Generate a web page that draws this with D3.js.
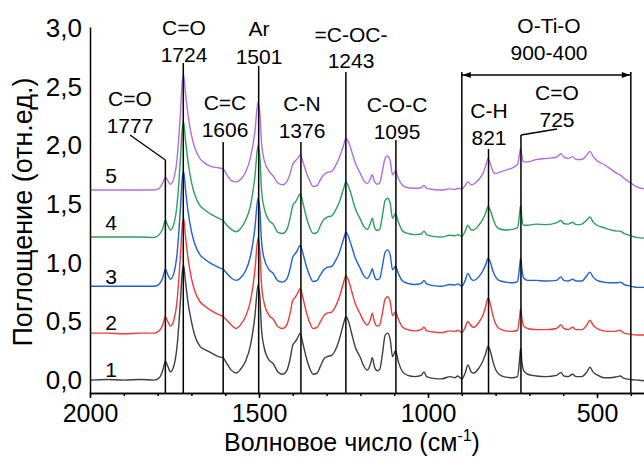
<!DOCTYPE html>
<html>
<head>
<meta charset="utf-8">
<script src="https://cdn.jsdelivr.net/npm/d3@7"></script>
<style>
  html, body { margin: 0; padding: 0; background: #ffffff; }
  svg { display: block; font-family: "Liberation Sans", Arial, sans-serif; }
</style>
</head>
<body>
<svg id="chart" width="644" height="459"></svg>
<script>
// ---------------- DATA ----------------
const wavenumber = [2000,1950,1900,1850,1810,1795,1785,1777,1770,1762,1752,1742,1733,1727,1723,1718,1710,1700,1690,1675,1660,1640,1620,1606,1595,1582,1567,1555,1540,1525,1512,1503,1497,1493,1485,1470,1458,1444,1430,1418,1408,1400,1392,1386,1378,1370,1360,1350,1340,1328,1318,1308,1298,1285,1275,1262,1250,1243,1235,1227,1215,1200,1190,1180,1170,1165,1158,1150,1143,1135,1127,1120,1112,1105,1096,1088,1075,1060,1040,1020,1012,1004,985,960,935,920,912,900,890,882,872,865,850,838,830,822,815,808,800,790,770,750,735,729,726,722,717,705,680,650,620,607,598,585,572,562,545,530,521,512,500,480,460,440,432,420,400,380,361];

const series1 = [0.00,0.005,0.00,0.005,0.00,0.02,0.08,0.16,0.12,0.07,0.12,0.30,0.65,0.92,0.98,0.85,0.66,0.50,0.38,0.29,0.26,0.23,0.20,0.19,0.14,0.085,0.06,0.09,0.16,0.30,0.55,0.81,0.70,0.45,0.28,0.17,0.14,0.07,0.05,0.08,0.18,0.30,0.33,0.36,0.40,0.31,0.19,0.10,0.05,0.06,0.12,0.18,0.20,0.21,0.25,0.35,0.48,0.54,0.50,0.41,0.28,0.19,0.12,0.085,0.14,0.19,0.11,0.08,0.09,0.22,0.38,0.40,0.35,0.20,0.25,0.16,0.07,0.04,0.03,0.04,0.07,0.03,0.015,0.01,0.03,0.02,0.035,0.01,0.06,0.13,0.07,0.06,0.10,0.16,0.22,0.29,0.24,0.16,0.09,0.05,0.025,0.02,0.03,0.18,0.27,0.15,0.08,0.05,0.035,0.03,0.04,0.065,0.035,0.03,0.05,0.03,0.03,0.07,0.11,0.07,0.045,0.02,0.02,0.03,0.035,0.015,0.005,0.00,-0.005];

const series2 = [0.00,0.00,-0.005,0.00,0.00,0.02,0.07,0.14,0.10,0.06,0.11,0.29,0.64,0.92,0.98,0.84,0.64,0.47,0.36,0.27,0.23,0.19,0.16,0.14,0.11,0.07,0.04,0.07,0.14,0.28,0.54,0.81,0.68,0.43,0.26,0.15,0.12,0.055,0.04,0.07,0.17,0.28,0.31,0.34,0.38,0.30,0.18,0.09,0.04,0.05,0.10,0.15,0.17,0.18,0.22,0.31,0.43,0.49,0.45,0.37,0.25,0.16,0.10,0.07,0.12,0.17,0.09,0.06,0.07,0.17,0.29,0.31,0.27,0.15,0.18,0.12,0.05,0.03,0.02,0.03,0.05,0.02,0.01,0.005,0.02,0.015,0.025,0.005,0.05,0.10,0.06,0.05,0.09,0.15,0.22,0.30,0.24,0.15,0.08,0.04,0.02,0.015,0.025,0.14,0.21,0.12,0.06,0.04,0.03,0.03,0.04,0.07,0.04,0.03,0.05,0.03,0.03,0.07,0.11,0.07,0.04,0.02,0.015,0.02,0.025,0.00,-0.01,-0.015,-0.016];

const series3 = [0.00,0.00,0.00,0.00,0.00,0.02,0.07,0.144,0.10,0.06,0.11,0.29,0.64,0.92,0.98,0.84,0.64,0.47,0.36,0.27,0.23,0.19,0.16,0.144,0.11,0.07,0.05,0.07,0.13,0.26,0.50,0.75,0.63,0.40,0.24,0.14,0.11,0.045,0.035,0.06,0.15,0.25,0.28,0.31,0.35,0.28,0.17,0.09,0.04,0.05,0.10,0.14,0.16,0.17,0.21,0.29,0.40,0.46,0.42,0.35,0.24,0.15,0.09,0.065,0.11,0.15,0.08,0.055,0.065,0.17,0.29,0.31,0.27,0.14,0.17,0.11,0.045,0.025,0.015,0.025,0.05,0.02,0.005,0.00,0.015,0.01,0.02,0.00,0.05,0.11,0.06,0.05,0.08,0.13,0.18,0.24,0.20,0.13,0.08,0.05,0.035,0.03,0.04,0.17,0.24,0.14,0.07,0.05,0.05,0.045,0.05,0.08,0.05,0.045,0.06,0.045,0.045,0.09,0.12,0.08,0.05,0.035,0.03,0.03,0.035,0.015,0.00,-0.01,-0.01];

const series4 = [0.00,0.00,0.00,0.00,-0.005,0.02,0.07,0.14,0.10,0.06,0.11,0.29,0.64,0.92,0.98,0.84,0.64,0.47,0.36,0.27,0.23,0.19,0.16,0.138,0.10,0.065,0.044,0.07,0.14,0.27,0.52,0.78,0.66,0.42,0.25,0.14,0.11,0.04,0.03,0.06,0.16,0.27,0.30,0.33,0.37,0.29,0.17,0.08,0.03,0.04,0.10,0.15,0.17,0.18,0.22,0.30,0.41,0.47,0.43,0.36,0.24,0.15,0.09,0.065,0.12,0.16,0.08,0.055,0.065,0.18,0.31,0.33,0.29,0.16,0.20,0.13,0.05,0.03,0.02,0.025,0.05,0.02,0.005,0.00,0.015,0.01,0.02,0.005,0.05,0.10,0.06,0.06,0.10,0.15,0.20,0.26,0.22,0.16,0.10,0.07,0.06,0.065,0.08,0.20,0.27,0.15,0.10,0.10,0.11,0.105,0.12,0.14,0.115,0.11,0.125,0.105,0.11,0.145,0.17,0.13,0.10,0.08,0.06,0.05,0.05,0.03,0.01,-0.005,-0.01];

const series5 = [0.00,0.00,0.00,0.00,0.00,0.015,0.06,0.11,0.08,0.05,0.10,0.28,0.63,0.92,0.98,0.84,0.64,0.47,0.36,0.27,0.23,0.20,0.19,0.18,0.13,0.08,0.07,0.09,0.15,0.28,0.50,0.75,0.64,0.42,0.26,0.16,0.12,0.06,0.045,0.07,0.14,0.22,0.25,0.27,0.30,0.24,0.15,0.08,0.03,0.04,0.09,0.13,0.15,0.16,0.20,0.28,0.38,0.44,0.41,0.34,0.23,0.14,0.08,0.055,0.10,0.13,0.07,0.05,0.06,0.16,0.27,0.29,0.25,0.13,0.16,0.10,0.04,0.02,0.015,0.02,0.04,0.015,0.005,0.00,0.01,0.005,0.015,0.01,0.04,0.07,0.045,0.05,0.09,0.14,0.20,0.27,0.22,0.16,0.14,0.15,0.17,0.19,0.22,0.31,0.355,0.28,0.24,0.24,0.26,0.27,0.28,0.31,0.28,0.27,0.285,0.26,0.26,0.30,0.33,0.29,0.25,0.22,0.18,0.14,0.13,0.10,0.06,0.025,0.01];

const seriesNames = ["1", "2", "3", "4", "5"];
const seriesOffsets = [0, 0.40, 0.80, 1.22, 1.62];
const seriesValues = [series1, series2, series3, series4, series5];
const seriesColors = ["#3f3f3f", "#f23b3b", "#1f5fdb", "#2e9e5b", "#b26de4"];

const xMajorTicks = [2000, 1500, 1000, 500];
const xMinorTicks = [2000,1900,1800,1700,1600,1500,1400,1300,1200,1100,1000,900,800,700,600,500,400];
const yTicks = [0, 0.5, 1.0, 1.5, 2.0, 2.5, 3.0];

const peakWavenumbers = [1777, 1724, 1606, 1501, 1376, 1243, 1095, 821, 725];
const peakGroups = ["C=O", "C=O", "C=C", "Ar", "C-N", "=C-OC-", "C-O-C", "C-H", "C=O"];
const bandRange = [900, 400];
const bandLabel = ["O-Ti-O", "900-400"];

// ---------------- LAYOUT ----------------
const FONT = "'Liberation Sans', Arial, sans-serif";
const layout = [ // pixel layout for each annotation, index-aligned with peakWavenumbers
  { top: 160, lx: 130, b1: 106, b2: 133, leader: [130, 135] },
  { top: 63,  lx: 184, b1: 35,  b2: 62 },
  { top: 142, lx: 225, b1: 110, b2: 137 },
  { top: 66,  lx: 259, b1: 36,  b2: 64 },
  { top: 142, lx: 302, b1: 111, b2: 138 },
  { top: 72,  lx: 351, b1: 42,  b2: 68 },
  { top: 140, lx: 397, b1: 112, b2: 139 },
  { top: 149, lx: 489, b1: 118, b2: 145 },
  { top: 135, lx: 557, b1: 100, b2: 127, leader: [557, 129] }
];

const svg = d3.select("#chart");
const x = d3.scaleLinear().domain([2000, 361]).range([90, 644]);
const y = d3.scaleLinear().domain([-0.11, 3.01]).range([393, 27]);

// curves
const line = d3.line().curve(d3.curveMonotoneX);
seriesValues.forEach((vals, i) => {
  const pts = wavenumber.map((w, k) => [x(w), y(vals[k] + seriesOffsets[i])]);
  svg.append("path")
    .attr("d", line(pts))
    .attr("fill", "none")
    .attr("stroke", seriesColors[i])
    .attr("stroke-width", 1.4)
    .attr("stroke-linejoin", "round");
});

// series labels
const labelBaselines = [377, 330, 284, 230, 183];
seriesNames.forEach((n, i) => {
  svg.append("text").attr("x", 111).attr("y", labelBaselines[i])
    .attr("text-anchor", "middle").attr("font-size", 21).attr("fill", "#000")
    .text(n);
});

// x axis
const gx = svg.append("g").attr("transform", "translate(0,393)");
gx.call(d3.axisBottom(x).tickValues(xMinorTicks).tickSize(3).tickSizeOuter(0).tickFormat(""));
const gx2 = svg.append("g").attr("transform", "translate(0,393)");
gx2.call(d3.axisBottom(x).tickValues(xMajorTicks).tickSize(5).tickSizeOuter(0).tickPadding(6).tickFormat(d3.format("d")));
[gx, gx2].forEach(g => {
  g.selectAll("path, line").attr("stroke", "#000").attr("stroke-width", 1.5);
  g.selectAll("text").attr("font-size", 25).attr("font-family", FONT).attr("fill", "#000");
});

// y axis
const gy = svg.append("g").attr("transform", "translate(90,0)");
gy.call(d3.axisLeft(y).tickValues(yTicks).tickSize(0).tickSizeOuter(0).tickPadding(8)
  .tickFormat(d => d.toFixed(1).replace(".", ",")));
gy.selectAll("path").attr("stroke", "#000").attr("stroke-width", 1.5);
gy.selectAll("text").attr("font-size", 26).attr("font-family", FONT).attr("fill", "#000");

// annotation lines and labels
const ann = svg.append("g");
peakWavenumbers.forEach((w, i) => {
  const L = layout[i];
  const px = x(w);
  ann.append("line").attr("x1", px).attr("x2", px).attr("y1", 393).attr("y2", L.top)
    .attr("stroke", "#000").attr("stroke-width", 1.5);
  if (L.leader) {
    ann.append("line").attr("x1", px).attr("y1", L.top).attr("x2", L.leader[0]).attr("y2", L.leader[1])
      .attr("stroke", "#000").attr("stroke-width", 1.3);
  }
  ann.append("text").attr("x", L.lx).attr("y", L.b1).attr("text-anchor", "middle")
    .attr("font-size", 21).attr("fill", "#000").text(peakGroups[i]);
  ann.append("text").attr("x", L.lx).attr("y", L.b2).attr("text-anchor", "middle")
    .attr("font-size", 21).attr("fill", "#000").text(String(w));
});

// O-Ti-O band bracket
const bx0 = x(bandRange[0]), bx1 = x(bandRange[1]);
const bracketY = 75;
[bx0, bx1].forEach(px => {
  ann.append("line").attr("x1", px).attr("x2", px).attr("y1", 393).attr("y2", 72)
    .attr("stroke", "#000").attr("stroke-width", 1.5);
});
ann.append("line").attr("x1", bx0).attr("x2", bx1).attr("y1", bracketY).attr("y2", bracketY)
  .attr("stroke", "#000").attr("stroke-width", 1.3);
ann.append("path")
  .attr("d", `M${bx0 + 1},${bracketY} L${bx0 + 9},${bracketY - 3} L${bx0 + 9},${bracketY + 3} Z`)
  .attr("fill", "#000");
ann.append("path")
  .attr("d", `M${bx1 - 1},${bracketY} L${bx1 - 9},${bracketY - 3} L${bx1 - 9},${bracketY + 3} Z`)
  .attr("fill", "#000");
ann.append("text").attr("x", 549).attr("y", 33).attr("text-anchor", "middle")
  .attr("font-size", 21).attr("fill", "#000").text(bandLabel[0]);
ann.append("text").attr("x", 549).attr("y", 60).attr("text-anchor", "middle")
  .attr("font-size", 21).attr("fill", "#000").text(bandLabel[1]);

// axis titles
svg.append("text").attr("transform", "translate(32,212) rotate(-90)")
  .attr("text-anchor", "middle").attr("font-size", 27).attr("fill", "#000")
  .text("Поглощение (отн.ед.)");
const xt = svg.append("text").attr("x", 352).attr("y", 451)
  .attr("text-anchor", "middle").attr("font-size", 25).attr("fill", "#000");
xt.append("tspan").text("Волновое число (см");
xt.append("tspan").attr("font-size", 16).attr("dy", -10).text("-1");
xt.append("tspan").attr("dy", 10).text(")");
</script>
</body>
</html>
